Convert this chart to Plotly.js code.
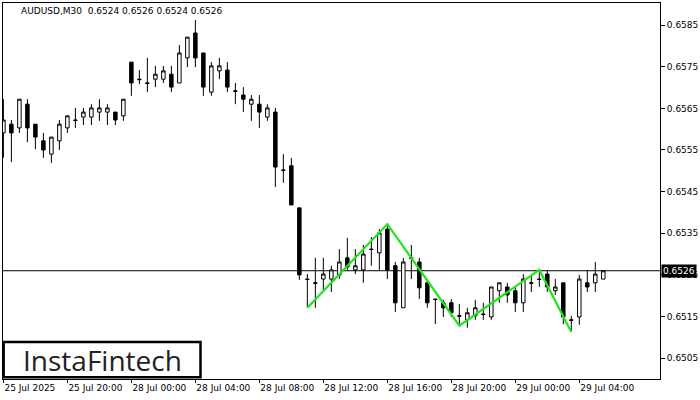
<!DOCTYPE html>
<html>
<head>
<meta charset="utf-8">
<script src="https://cdn.plot.ly/plotly-3.0.1.min.js"></script>
<style>
  html, body { margin: 0; padding: 0; background: #ffffff; }
  #chart { width: 700px; height: 400px; }
</style>
</head>
<body>
<div id="chart"></div>
<script>
// ---- data (AUDUSD, M30) ----
var symbolTitle = "AUDUSD,M30  0.6524 0.6526 0.6524 0.6526";
var tickLabels = ["25 Jul 2025", "25 Jul 20:00", "28 Jul 00:00", "28 Jul 04:00", "28 Jul 08:00",
                  "28 Jul 12:00", "28 Jul 16:00", "28 Jul 20:00", "29 Jul 00:00", "29 Jul 04:00"];
var candlesPerTick = 8;

var openP = [
  0.65591, 0.65612, 0.65603, 0.65660, 0.65612, 0.65572, 0.65540, 0.65572, 0.65603, 0.65622,
  0.65629, 0.65629, 0.65641, 0.65641, 0.65641, 0.65632, 0.65761, 0.65720, 0.65711, 0.65720,
  0.65720, 0.65732, 0.65711, 0.65771, 0.65831, 0.65783, 0.65689, 0.65740, 0.65742, 0.65692,
  0.65682, 0.65660, 0.65660, 0.65629, 0.65641, 0.65502, 0.65512, 0.65411, 0.65240, 0.65231,
  0.65240, 0.65240, 0.65250, 0.65291, 0.65262, 0.65262, 0.65312, 0.65303, 0.65360, 0.65272,
  0.65171, 0.65291, 0.65281, 0.65231, 0.65192, 0.65183, 0.65183, 0.65152, 0.65142, 0.65152,
  0.65156, 0.65149, 0.65212, 0.65221, 0.65212, 0.65183, 0.65231, 0.65240, 0.65252, 0.65212,
  0.65231, 0.65142, 0.65149, 0.65231, 0.65231, 0.65240
];
var highP = [
  0.65672, 0.65622, 0.65672, 0.65672, 0.65612, 0.65591, 0.65581, 0.65622, 0.65632, 0.65651,
  0.65651, 0.65660, 0.65672, 0.65660, 0.65641, 0.65672, 0.65761, 0.65742, 0.65771, 0.65752,
  0.65752, 0.65752, 0.65802, 0.65821, 0.65862, 0.65783, 0.65761, 0.65771, 0.65761, 0.65711,
  0.65701, 0.65682, 0.65682, 0.65660, 0.65651, 0.65540, 0.65531, 0.65411, 0.65252, 0.65291,
  0.65291, 0.65272, 0.65312, 0.65339, 0.65312, 0.65322, 0.65341, 0.65360, 0.65372, 0.65281,
  0.65291, 0.65322, 0.65291, 0.65240, 0.65192, 0.65190, 0.65192, 0.65180, 0.65171, 0.65190,
  0.65183, 0.65221, 0.65231, 0.65231, 0.65221, 0.65252, 0.65250, 0.65262, 0.65262, 0.65240,
  0.65231, 0.65152, 0.65250, 0.65262, 0.65281, 0.65260
];
var lowP = [
  0.65531, 0.65521, 0.65591, 0.65569, 0.65552, 0.65531, 0.65519, 0.65550, 0.65591, 0.65603,
  0.65610, 0.65610, 0.65620, 0.65610, 0.65610, 0.65620, 0.65680, 0.65708, 0.65689, 0.65701,
  0.65711, 0.65689, 0.65711, 0.65749, 0.65749, 0.65680, 0.65680, 0.65720, 0.65689, 0.65660,
  0.65641, 0.65620, 0.65603, 0.65620, 0.65461, 0.65471, 0.65418, 0.65238, 0.65171, 0.65171,
  0.65214, 0.65209, 0.65240, 0.65262, 0.65252, 0.65231, 0.65272, 0.65262, 0.65240, 0.65161,
  0.65171, 0.65240, 0.65192, 0.65171, 0.65132, 0.65149, 0.65149, 0.65128, 0.65123, 0.65142,
  0.65142, 0.65142, 0.65183, 0.65183, 0.65161, 0.65161, 0.65209, 0.65221, 0.65209, 0.65202,
  0.65132, 0.65113, 0.65130, 0.65209, 0.65209, 0.65240
];
var closeP = [
  0.65622, 0.65591, 0.65672, 0.65603, 0.65581, 0.65550, 0.65581, 0.65612, 0.65632, 0.65621,
  0.65641, 0.65651, 0.65651, 0.65651, 0.65622, 0.65672, 0.65711, 0.65719, 0.65710, 0.65732,
  0.65740, 0.65701, 0.65783, 0.65821, 0.65771, 0.65701, 0.65752, 0.65752, 0.65701, 0.65691,
  0.65672, 0.65672, 0.65641, 0.65651, 0.65509, 0.65501, 0.65418, 0.65250, 0.65239, 0.65230,
  0.65252, 0.65262, 0.65281, 0.65269, 0.65272, 0.65300, 0.65311, 0.65351, 0.65262, 0.65183,
  0.65281, 0.65290, 0.65219, 0.65183, 0.65191, 0.65171, 0.65159, 0.65151, 0.65159, 0.65171,
  0.65155, 0.65221, 0.65231, 0.65202, 0.65183, 0.65240, 0.65230, 0.65239, 0.65221, 0.65221,
  0.65149, 0.65141, 0.65240, 0.65221, 0.65252, 0.65260
];

// pattern (zigzag) pivots: candle index and which extreme
var patternIdx = [38, 48, 57, 67, 71];
var patternSide = ["low", "high", "low", "high", "low"];

var currentPrice = 0.6526;
var logoText = "InstaFintech";

// ---- build ----
var idx = closeP.map(function (_, i) { return i; });
var tickVals = tickLabels.map(function (_, i) { return i * candlesPerTick; });
var patternY = patternIdx.map(function (k, i) {
  return patternSide[i] === "high" ? highP[k] : lowP[k];
});

var candle = {
  type: "candlestick",
  x: idx, open: openP, high: highP, low: lowP, close: closeP,
  increasing: { line: { color: "#000000", width: 1 }, fillcolor: "#ffffff" },
  decreasing: { line: { color: "#000000", width: 1 }, fillcolor: "#000000" },
  whiskerwidth: 0,
  hoverinfo: "skip",
  showlegend: false
};

var zigzag = {
  type: "scatter", mode: "lines",
  x: patternIdx, y: patternY,
  line: { color: "#1ee61e", width: 2.2 },
  hoverinfo: "skip", showlegend: false
};

var fontFam = "DejaVu Sans, Verdana, sans-serif";

var layout = {
  width: 700, height: 400,
  margin: { l: 3, r: 40, t: 3, b: 21, pad: 0 },
  paper_bgcolor: "#ffffff", plot_bgcolor: "#ffffff",
  boxgap: 0.38,
  showlegend: false,
  xaxis: {
    type: "linear",
    range: [-0.05, 82.09],
    rangeslider: { visible: false },
    showgrid: false, zeroline: false,
    showline: true, mirror: true, linecolor: "#000000", linewidth: 1,
    tickmode: "array", tickvals: tickVals, ticktext: tickLabels,
    ticks: "outside", ticklen: 3, tickcolor: "#000000", tickwidth: 1,
    ticklabelposition: "outside right",
    tickfont: { family: fontFam, size: 9, color: "#000000" },
    fixedrange: true
  },
  yaxis: {
    side: "right",
    range: [0.65000, 0.65903],
    showgrid: false, zeroline: false,
    showline: true, mirror: true, linecolor: "#000000", linewidth: 1,
    tick0: 0.6505, dtick: 0.001, tickformat: ".4f",
    ticks: "outside", ticklen: 4, tickcolor: "#000000", tickwidth: 1,
    tickfont: { family: fontFam, size: 9, color: "#000000" },
    fixedrange: true
  },
  shapes: [
    {
      type: "line", xref: "paper", yref: "y",
      x0: 0, x1: 1, y0: currentPrice, y1: currentPrice,
      line: { color: "#000000", width: 1 }, layer: "below"
    },
    {
      type: "rect", xref: "paper", yref: "paper",
      x0: 0.001, x1: 0.3006, y0: 0.0045, y1: 0.0984,
      line: { color: "#000000", width: 2.5 }, fillcolor: "#ffffff", layer: "above"
    }
  ],
  annotations: [
    {
      xref: "paper", yref: "paper", x: 0.0245, y: 0.9785,
      xanchor: "left", yanchor: "middle", showarrow: false,
      text: symbolTitle,
      font: { family: fontFam, size: 9, color: "#000000" }
    },
    {
      xref: "paper", yref: "y", x: 1, y: currentPrice,
      xanchor: "left", yanchor: "middle", showarrow: false,
      xshift: 1,
      text: currentPrice.toFixed(4),
      bgcolor: "#000000", borderpad: 1,
      font: { family: fontFam, size: 9, color: "#ffffff" }
    },
    {
      xref: "paper", yref: "paper", x: 0.1507, y: 0.0505,
      xanchor: "center", yanchor: "middle", showarrow: false,
      text: logoText,
      font: { family: "Open Sans, sans-serif", size: 28, color: "#222222" }
    }
  ]
};

Plotly.newPlot("chart", [candle, zigzag], layout, { displayModeBar: false, staticPlot: true });
</script>
</body>
</html>
